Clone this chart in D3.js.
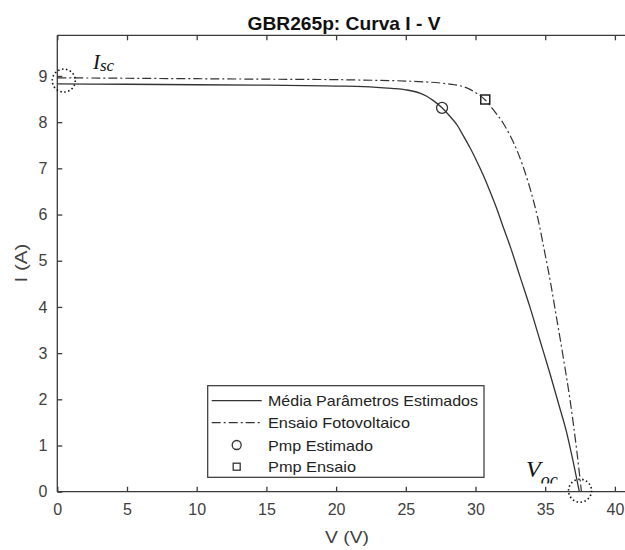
<!DOCTYPE html>
<html><head><meta charset="utf-8">
<script src="https://cdn.jsdelivr.net/npm/d3@7"></script>
<style>
body{margin:0;background:#fff;}
svg{display:block;}
</style></head>
<body><svg id="c" width="625" height="550"></svg>
<script>
// ---- data ----
const titleText = "GBR265p: Curva I - V";
const xLabel = "V (V)";
const yLabel = "I (A)";
const xTicks = [0,5,10,15,20,25,30,35,40];
const yTicks = [0,1,2,3,4,5,6,7,8,9];
const seriesNames = ["Média Parâmetros Estimados","Ensaio Fotovoltaico","Pmp Estimado","Pmp Ensaio"];
// Média Parâmetros Estimados (solid)
const estV = [0,5,10,15,20,22,24,25,26,26.5,27,27.6,28.1,28.65,29.1,29.6,30.1,30.56,31.0,31.52,32.0,32.5,33.2,33.9,34.6,35.33,36.0,36.54,37.0,37.45];
const estI = [8.83,8.82,8.81,8.80,8.78,8.77,8.73,8.70,8.63,8.56,8.46,8.31,8.15,7.95,7.72,7.45,7.15,6.85,6.53,6.13,5.72,5.30,4.65,4.00,3.30,2.57,1.86,1.28,0.66,0];
// Ensaio Fotovoltaico (dash-dot)
const ensV = [0,5,10,15,20,22,25,27.7,28.5,29.1,29.6,30.1,30.7,31.3,32,32.5,32.96,33.4,33.8,34.2,34.5,34.98,35.4,35.8,36.3,36.78,37.26,37.6];
const ensI = [8.96,8.95,8.94,8.93,8.92,8.91,8.89,8.84,8.81,8.77,8.71,8.62,8.48,8.26,7.97,7.70,7.40,7.05,6.68,6.25,5.88,5.16,4.50,3.79,2.90,1.99,0.90,0];
// Maximum power points
const pmpEstV = 27.6, pmpEstI = 8.31;
const pmpEnsV = 30.7, pmpEnsI = 8.49;
const xDomain = [0,41];
const yDomain = [0,9.88];

const svg = d3.select("#c");
const L = 57.3, T = 35.3, B = 491.7, R = 57.3 + 41*13.94;
const x = d3.scaleLinear().domain(xDomain).range([L,R]);
const y = d3.scaleLinear().domain(yDomain).range([B,T]);
const axisCol = "#3a3a3a", txtCol = "#404040";
const font = "Liberation Sans, Arial, sans-serif";

// axes
const gx = svg.append("g").attr("transform",`translate(0,${B})`)
  .call(d3.axisBottom(x).tickValues(xTicks).tickSize(-5).tickPadding(12).tickFormat(d3.format("d")));
const gxt = svg.append("g").attr("transform",`translate(0,${T})`)
  .call(d3.axisTop(x).tickValues(xTicks).tickSize(-5).tickFormat(""));
const gy = svg.append("g").attr("transform",`translate(${L},0)`)
  .call(d3.axisLeft(y).tickValues(yTicks).tickSize(-5).tickPadding(10).tickFormat(d3.format("d")));
[gx,gxt,gy].forEach(g=>{
  g.select(".domain").attr("stroke",axisCol).attr("stroke-width",1.3);
  g.selectAll(".tick line").attr("stroke",axisCol).attr("stroke-width",1.3);
  g.selectAll(".tick text").attr("fill",txtCol).attr("font-size",16).attr("font-family",font);
});
gx.select(".domain").attr("d",`M${L},0H${R}`);
gxt.select(".domain").attr("d",`M${L},0H${R}`);
gy.select(".domain").attr("d",`M0,${B}V${T}`);

// title and labels
svg.append("text").attr("x",344).attr("y",30).attr("text-anchor","middle")
  .attr("font-family",font).attr("font-weight","bold").attr("font-size",19).attr("fill","#111")
  .attr("textLength",193).attr("lengthAdjust","spacingAndGlyphs").text(titleText);
svg.append("text").attr("x",347).attr("y",543).attr("text-anchor","middle")
  .attr("font-family",font).attr("font-size",17).attr("fill",txtCol)
  .attr("textLength",44).attr("lengthAdjust","spacingAndGlyphs").text(xLabel);
svg.append("text").attr("transform","translate(27,263) rotate(-90)").attr("text-anchor","middle")
  .attr("font-family",font).attr("font-size",17).attr("fill",txtCol)
  .attr("textLength",39).attr("lengthAdjust","spacingAndGlyphs").text(yLabel);

// curves
const line = d3.line().x(d=>x(d[0])).y(d=>y(d[1])).curve(d3.curveMonotoneX);
svg.append("path").datum(estV.map((v,i)=>[v,estI[i]])).attr("d",line)
  .attr("fill","none").attr("stroke","#333").attr("stroke-width",1.3);
svg.append("path").datum(ensV.map((v,i)=>[v,ensI[i]])).attr("d",line)
  .attr("fill","none").attr("stroke","#333").attr("stroke-width",1.2).attr("stroke-dasharray","9,3,2,3");

// markers
svg.append("circle").attr("cx",x(pmpEstV)).attr("cy",y(pmpEstI)).attr("r",5.5)
  .attr("fill","none").attr("stroke","#333").attr("stroke-width",1.3);
svg.append("rect").attr("x",x(pmpEnsV)-4.5).attr("y",y(pmpEnsI)-4.5).attr("width",9).attr("height",9)
  .attr("fill","none").attr("stroke","#222").attr("stroke-width",1.5);

// annotations: dotted circles
svg.append("circle").attr("cx",x(0)+6.5).attr("cy",y(8.9)).attr("r",11.5)
  .attr("fill","none").attr("stroke","#111").attr("stroke-width",1.6).attr("stroke-dasharray","1.5,2.5");
svg.append("circle").attr("cx",x(37.5)).attr("cy",B-1).attr("r",11.5)
  .attr("fill","none").attr("stroke","#111").attr("stroke-width",1.6).attr("stroke-dasharray","1.5,2.5");

const serif = "Liberation Serif, Times New Roman, serif";
const isc = svg.append("text").attr("x",93).attr("y",69).attr("font-family",serif).attr("font-style","italic").attr("font-size",21).attr("fill","#111");
isc.append("tspan").text("I");
isc.append("tspan").attr("font-size",17).attr("dy",2).text("sc");
svg.append("clipPath").attr("id","vclip").append("rect").attr("x",500).attr("y",440).attr("width",120).attr("height",43.5);
const voc = svg.append("text").attr("x",526).attr("y",477).attr("font-family",serif).attr("font-style","italic").attr("font-size",24).attr("fill","#111").attr("clip-path","url(#vclip)");
voc.append("tspan").text("V");
voc.append("tspan").attr("font-size",18).attr("dy",9).text("oc");

// legend
const lg = svg.append("g");
lg.append("rect").attr("x",207.7).attr("y",385.7).attr("width",276.3).attr("height",91.6)
  .attr("fill","#fff").attr("stroke","#333").attr("stroke-width",1.2);
const rowsY = [400.7,422.7,445,466.7];
const legendW = [210,142,105,88];
lg.append("line").attr("x1",211.7).attr("x2",261.7).attr("y1",rowsY[0]).attr("y2",rowsY[0]).attr("stroke","#333").attr("stroke-width",1.3);
lg.append("line").attr("x1",211.7).attr("x2",261.7).attr("y1",rowsY[1]).attr("y2",rowsY[1]).attr("stroke","#333").attr("stroke-width",1.2).attr("stroke-dasharray","9,3,2,3");
lg.append("circle").attr("cx",236.7).attr("cy",rowsY[2]).attr("r",4.5).attr("fill","none").attr("stroke","#333").attr("stroke-width",1.3);
lg.append("rect").attr("x",236.7-3.5).attr("y",rowsY[3]-3.5).attr("width",7).attr("height",7).attr("fill","none").attr("stroke","#333").attr("stroke-width",1.3);
seriesNames.forEach((n,i)=>{
  lg.append("text").attr("x",268).attr("y",rowsY[i]+5.5).attr("font-family",font).attr("font-size",15)
    .attr("fill","#222").attr("textLength",legendW[i]).attr("lengthAdjust","spacingAndGlyphs").text(n);
});
</script></body></html>
